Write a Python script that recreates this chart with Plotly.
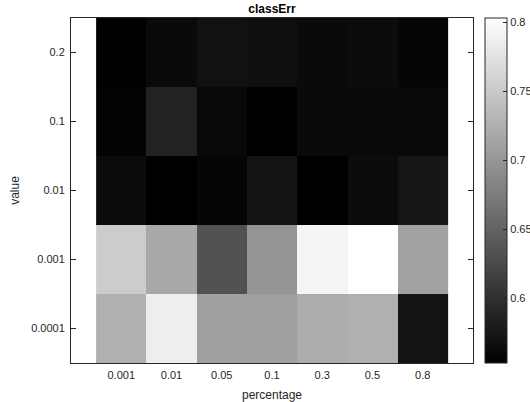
import plotly.graph_objects as go

# Data
percentages = ["0.001", "0.01", "0.05", "0.1", "0.3", "0.5", "0.8"]
values = ["0.0001", "0.001", "0.01", "0.1", "0.2"]  # bottom -> top

row_0_0001 = [0.7256, 0.7864, 0.7099, 0.7099, 0.7216, 0.7256, 0.5725]
row_0_001 = [0.7530, 0.7187, 0.6333, 0.6991, 0.7933, 0.8031, 0.7118]
row_0_01 = [0.5637, 0.5529, 0.5578, 0.5725, 0.5529, 0.5647, 0.5735]
row_0_1 = [0.5558, 0.5863, 0.5617, 0.5529, 0.5627, 0.5617, 0.5617]
row_0_2 = [0.5529, 0.5627, 0.5696, 0.5676, 0.5627, 0.5647, 0.5578]

cbar_ticks = [0.6, 0.65, 0.7, 0.75, 0.8]
cbar_ticktext = ["0.6", "0.65", "0.7", "0.75", "0.8"]

z = [row_0_0001, row_0_001, row_0_01, row_0_1, row_0_2]

FONT = "Liberation Sans, Arial, Helvetica, sans-serif"
TXT = "#262626"

fig = go.Figure(
    go.Heatmap(
        x=percentages,
        y=values,
        z=z,
        colorscale=[[0, "#000000"], [1, "#ffffff"]],
        colorbar=dict(
            x=(485 - 71) / 402,
            xanchor="left",
            y=0.5,
            yanchor="middle",
            len=1,
            lenmode="fraction",
            thickness=22,
            thicknessmode="pixels",
            xpad=0,
            ypad=0,
            outlinecolor=TXT,
            outlinewidth=1,
            ticks="inside",
            ticklen=4,
            tickcolor=TXT,
            tickvals=cbar_ticks,
            ticktext=cbar_ticktext,
            tickfont=dict(family=FONT, size=11, color=TXT),
        ),
    )
)

fig.update_layout(
    width=530,
    height=402,
    margin=dict(l=71, r=57, t=18, b=39, pad=0, autoexpand=False),
    paper_bgcolor="white",
    plot_bgcolor="white",
    font=dict(family=FONT, size=11, color=TXT),
    title=dict(
        text="<b>classErr</b>",
        x=(71 + 473) / 2 / 530,
        xanchor="center",
        y=1 - 9 / 402,
        yanchor="middle",
        font=dict(family=FONT, size=12, color="#000000"),
    ),
    xaxis=dict(
        type="category",
        range=[-1, 7],
        showline=True,
        linecolor=TXT,
        linewidth=1,
        mirror=True,
        ticks="",
        ticklabelstandoff=2,
        showgrid=False,
        zeroline=False,
        automargin=False,
        tickfont=dict(family=FONT, size=11, color=TXT),
        title=dict(text="percentage", font=dict(family=FONT, size=12, color=TXT), standoff=12),
    ),
    yaxis=dict(
        type="category",
        range=[-0.5, 4.5],
        showline=True,
        linecolor=TXT,
        linewidth=1,
        mirror="ticks",
        ticks="inside",
        ticklen=5,
        tickcolor=TXT,
        ticklabelstandoff=3,
        showgrid=False,
        zeroline=False,
        automargin=False,
        tickfont=dict(family=FONT, size=11, color=TXT),
        title=dict(text="value", font=dict(family=FONT, size=12, color=TXT), standoff=8),
    ),
)

fig.write_html("out.html")
